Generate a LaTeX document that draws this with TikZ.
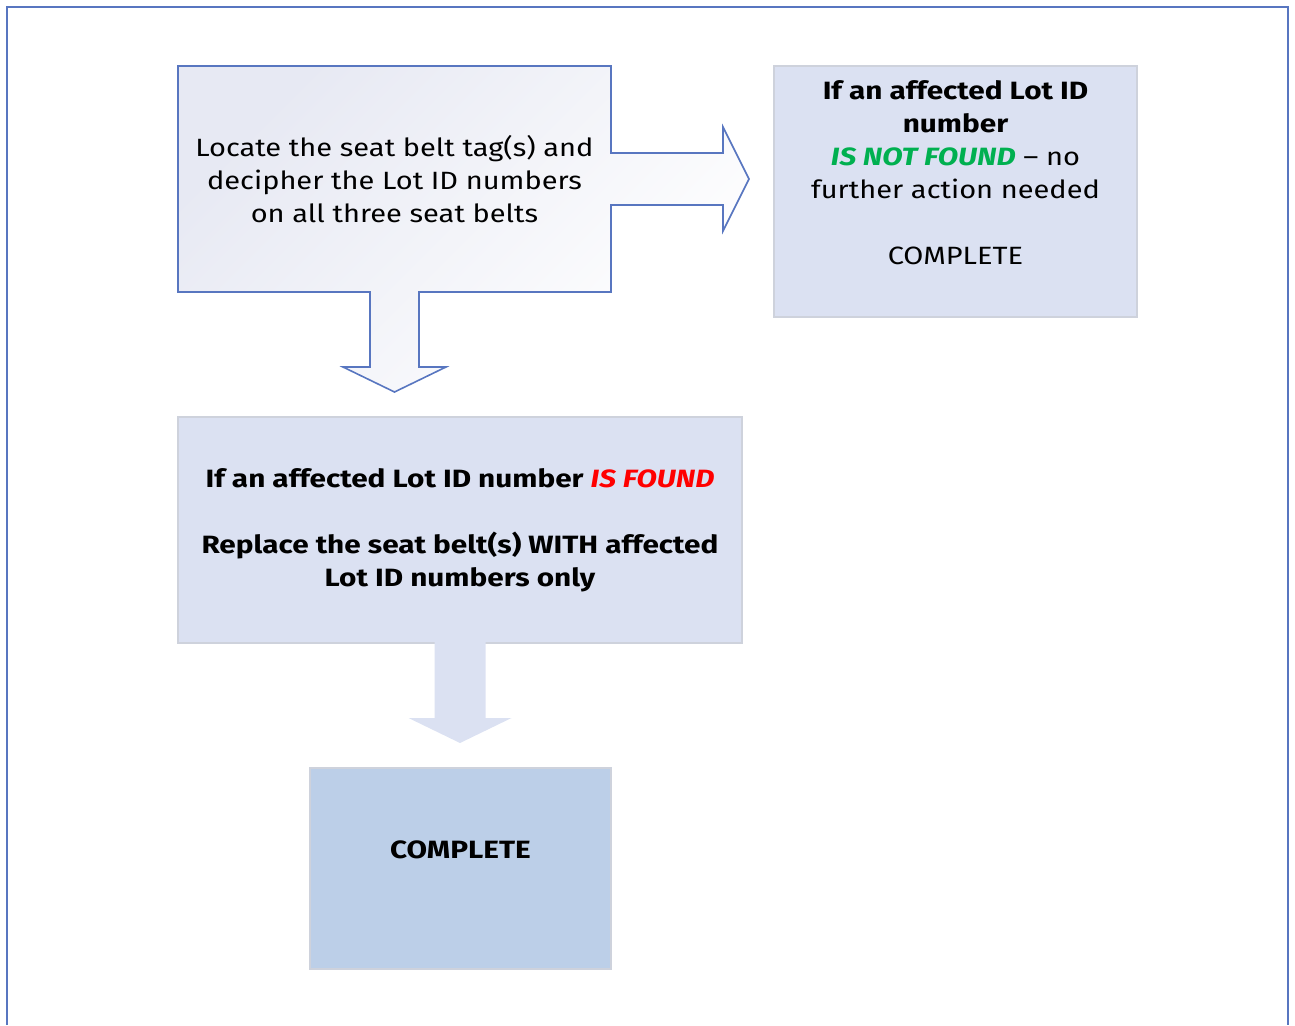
\documentclass[tikz,border=0pt]{standalone}
\usepackage{fontspec}
\setmainfont{Fira Sans}[FakeStretch=1.16,
  BoldFeatures={FakeStretch=1.19},
  BoldItalicFeatures={FakeStretch=1.19},
  ItalicFeatures={FakeStretch=1.16}]
\usetikzlibrary{calc,backgrounds}
\definecolor{frameblue}{RGB}{88,118,192}
\definecolor{boxfill}{RGB}{219,225,242}
\definecolor{boxline}{RGB}{206,210,220}
\definecolor{darkfill}{RGB}{188,207,232}
\definecolor{shadegray}{RGB}{231,233,243}
\definecolor{foundgreen}{RGB}{0,176,80}
\definecolor{foundred}{RGB}{255,0,0}
\tikzset{
  txt/.style={font=\fontsize{25}{33}\selectfont, align=center, text=black, inner sep=0pt},
  boxshape/.style={inner sep=0pt, outer sep=0pt},
  plainbox/.style={boxshape, fill=boxfill, draw=boxline, line width=1.2pt},
  blockarrow/.style={fill=boxfill, draw=none},
}
\begin{document}
\begin{tikzpicture}[x=1pt,y=-1pt]
\useasboundingbox (0,0) rectangle (1295,1025);
\draw[frameblue, line width=2pt] (7,1025) -- (7,7) -- (1288,7) -- (1288,1025);

% boxes
\node[boxshape, minimum width=433pt, minimum height=226pt, txt] (b1) at (394.5,179)
  {Locate the seat belt tag(s) and\\decipher the Lot ID numbers\\on all three seat belts};
\node[plainbox, minimum width=363pt, minimum height=251pt] (b2) at (955.5,191.5) {};
\node[plainbox, minimum width=564pt, minimum height=226pt, txt, font=\fontsize{25}{33}\selectfont\bfseries] (b3) at (460,530)
  {If an affected Lot ID number {\color{foundred}\itshape IS FOUND}\\[33pt]Replace the seat belt(s) WITH affected\\Lot ID numbers only};
\node[boxshape, fill=darkfill, draw=boxline, line width=1.2pt, minimum width=301pt, minimum height=201pt] (b4) at (460.5,868.5) {};

\node[txt, anchor=north] (t2) at (955.5,80)
  {\textbf{If an affected Lot ID}\\\textbf{number}\\{\color{foundgreen}\bfseries\itshape IS NOT FOUND} – no\\further action needed\\[33pt]COMPLETE};
\node[txt, font=\fontsize{25}{33}\selectfont\bfseries] (t4) at (460.5,850) {COMPLETE};

% tips of block arrows
\coordinate (tipR) at ($(b1.east -| b2.west)+(-25,0)$);
\coordinate (tipD) at ($(b1.south |- b3.north)+(0,-25)$);
\coordinate (tipE) at ($(b3.south |- b4.north)+(0,-25)$);

% first box with its two block arrows, one outline
\begin{pgfonlayer}{background}
\draw[frameblue, line width=1.6pt, top color=shadegray, bottom color=white, shading angle=45]
  (b1.north west) -- (b1.north east) -- ($(b1.east)+(0,-26)$)
  -- ($(tipR)+(-26,-26)$) -- ($(tipR)+(-26,-52)$) -- (tipR)
  -- ($(tipR)+(-26,52)$) -- ($(tipR)+(-26,26)$) -- ($(b1.east)+(0,26)$)
  -- (b1.south east) -- ($(b1.south)+(24.5,0)$)
  -- ($(tipD)+(24.5,-25)$) -- ($(tipD)+(51.5,-25)$) -- (tipD)
  -- ($(tipD)+(-51.5,-25)$) -- ($(tipD)+(-24.5,-25)$) -- ($(b1.south)+(-24.5,0)$)
  -- (b1.south west) -- cycle;
\end{pgfonlayer}

% block arrow from b3 to b4
\fill[blockarrow]
  ($(b3.south)+(-25.5,-1)$) -- ($(tipE)+(-25.5,-25)$) -- ($(tipE)+(-51.5,-25)$) -- (tipE)
  -- ($(tipE)+(51.5,-25)$) -- ($(tipE)+(25.5,-25)$) -- ($(b3.south)+(25.5,-1)$) -- cycle;
\end{tikzpicture}
\end{document}
